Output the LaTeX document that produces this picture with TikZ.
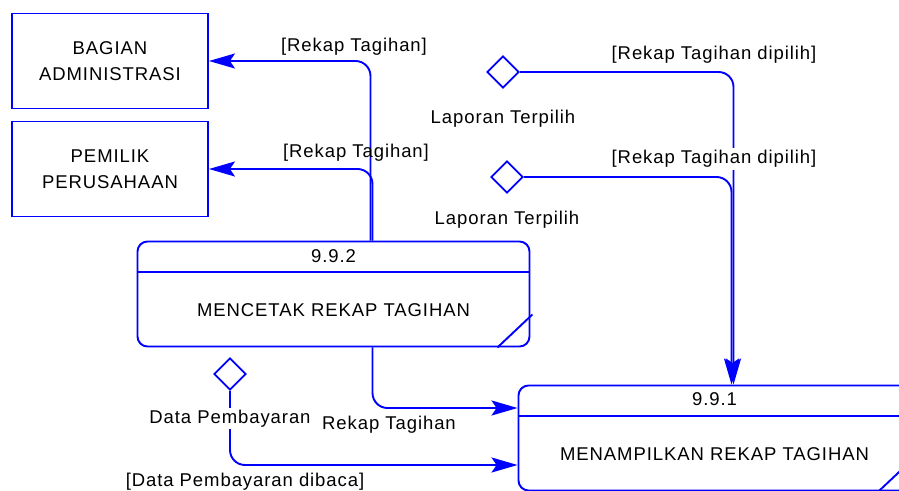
\documentclass[tikz,border=0pt]{standalone}
\usepackage{fontspec}
\setmainfont{Liberation Sans}[LetterSpace=5.0]
\usetikzlibrary{shapes.geometric,positioning,arrows.meta}

\begin{document}
\begin{tikzpicture}[x=1pt, y=-1pt,
        every node/.style={font=\fontsize{18.5}{26}\selectfont},
        entity/.style={rectangle, draw=blue, line width=1.9pt, minimum width=196pt, minimum height=95pt, align=center},
        proc/.style={rectangle, rounded corners=10pt, draw=blue, line width=1.9pt, minimum width=392pt, minimum height=105pt},
        store/.style={diamond, draw=blue, line width=1.9pt, minimum width=32pt, minimum height=32pt, inner sep=0pt},
        procline/.style={draw=blue, line width=1.9pt},
        flow/.style={draw=blue, line width=1.9pt, rounded corners=15pt, -{Stealth[length=26pt, width=15pt, inset=5pt]}}
    ]
        \useasboundingbox (0,0) rectangle (899,490);
        \clip (0,0) rectangle (899,490);

        % External entities
        \node[entity] (adm) at (110,61) {BAGIAN\\ADMINISTRASI};
        \node[entity] (pemilik) at (110,169) {PEMILIK\\PERUSAHAAN};

        % Processes
        \node[proc] (p992) at (333.5,294) {};
        \draw[procline] ([yshift=-31pt]p992.north west) -- ([yshift=-31pt]p992.north east);
        \draw[procline] ([xshift=-33pt]p992.south east) -- ([xshift=2pt, yshift=33pt]p992.south east);
        \node (p992id) at ([yshift=-16pt]p992.north) {9.9.2};
        \node (p992tt) at ([yshift=-16pt]p992.center) {MENCETAK REKAP TAGIHAN};

        \node[proc] (p991) at (714.5,438) {};
        \draw[procline] ([yshift=-31pt]p991.north west) -- ([yshift=-31pt]p991.north east);
        \draw[procline] ([xshift=-33pt]p991.south east) -- ([xshift=2pt, yshift=33pt]p991.south east);
        \node (p991id) at ([yshift=-15pt]p991.north) {9.9.1};
        \node (p991tt) at ([yshift=-16pt]p991.center) {MENAMPILKAN REKAP TAGIHAN};

        % Data stores
        \node[store] (d1) at (503,72) {};
        \node[below=18pt of d1] (d1lbl) {Laporan Terpilih};
        \node[store] (d2) at (507,177) {};
        \node[below=14pt of d2] (d2lbl) {Laporan Terpilih};
        \node[store] (d3) at (230,374) {};

        % Flows
        \draw[flow] ([xshift=37pt]p992.north) |- (adm.east);
        \draw[flow] ([xshift=39pt]p992.north) |- (pemilik.east);
        \draw[flow] (d1.east) -| ([xshift=19pt]p991.north);
        \draw[flow] (d2.east) -| ([xshift=17pt]p991.north);
        \draw[flow] ([xshift=39pt]p992.south) |- ([yshift=30pt]p991.west);
        \draw[flow] (d3.south) |- ([yshift=-27pt]p991.west);

        % Flow labels
        \node (f1) at (354,47) {[Rekap Tagihan]};
        \node (f2) at (356,153) {[Rekap Tagihan]};
        \node (f3) at (714,55) {[Rekap Tagihan dipilih]};
        \node[fill=white, inner sep=2pt] (f4) at (714,159) {[Rekap Tagihan dipilih]};
        \node (f5) at (389,425) {Rekap Tagihan};
        \node[below=17pt of d3, fill=white, inner sep=2pt] (d3lbl) {Data Pembayaran};
        \node (f6) at (245,482) {[Data Pembayaran dibaca]};
    \end{tikzpicture}
\end{document}
